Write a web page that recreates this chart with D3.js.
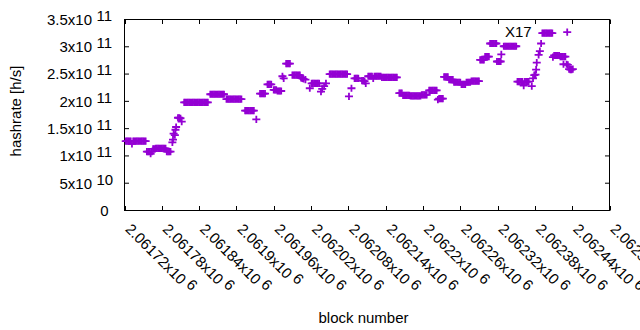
<!DOCTYPE html>
<html>
<head>
<meta charset="utf-8">
<script src="https://cdn.jsdelivr.net/npm/d3@7"></script>
<style>
  body { margin: 0; background: #fff; }
  svg text { font-family: "Liberation Sans", Arial, sans-serif; font-size: 15px; fill: #000; }
</style>
</head>
<body>
<div class="svg-container"></div>
<script>
// block numbers (one line per visible cluster)
const blockNumber = [
  2061722,2061724,2061726,2061728,2061730,2061732,2061734,2061736,2061738,2061740,2061742,2061744,2061746,2061748,2061750,2061752,2061754,
  2061756,2061758,2061760,2061762,2061764,
  2061766,2061768,2061770,2061772,2061774,2061776,2061778,2061780,2061782,2061784,2061786,
  2061788,2061790,2061792,2061794,
  2061797,2061798,2061799,2061801,2061802,2061803,
  2061806,2061808,2061810,2061812,
  2061816,2061818,2061820,2061822,2061824,2061826,2061828,2061830,2061832,2061834,2061836,2061838,2061840,2061842,2061844,2061846,2061848,2061850,2061852,2061854,
  2061858,2061860,2061862,2061864,2061866,2061868,2061870,2061872,2061874,2061876,2061878,2061880,
  2061884,2061886,2061888,2061890,2061892,2061894,2061896,2061898,2061900,2061902,2061904,2061906,2061908,
  2061914,2061916,2061918,2061920,2061922,2061924,2061926,2061928,
  2061932,
  2061938,2061940,2061942,2061944,2061946,
  2061950,2061952,2061954,2061956,
  2061960,2061962,2061964,2061966,2061968,2061970,2061972,
  2061974,2061976,
  2061980,2061982,2061984,2061986,
  2061990,2061992,2061994,2061996,2061998,2062000,2062002,2062004,2062006,2062008,
  2062011,2062018,
  2062021,2062023,2062025,2062027,2062029,2062031,2062033,
  2062036,2062038,2062041,2062044,
  2062050,2062052,2062054,2062056,2062058,2062060,2062062,2062064,2062066,2062068,2062070,2062072,2062074,2062076,2062078,
  2062081,2062085,
  2062090,2062092,2062094,2062096,
  2062102,2062104,2062106,2062108,
  2062112,2062114,2062116,2062118,2062120,2062122,2062124,2062126,2062128,2062130,2062132,2062134,2062136,2062138,2062140,2062142,2062144,2062146,2062148,2062150,2062152,2062154,2062156,2062158,
  2062162,2062164,2062166,
  2062168,2062170,2062172,2062174,2062176,2062178,
  2062180,2062182,2062184,2062186,2062188,2062190,2062192,2062194,2062196,
  2062198,2062200,2062202,2062204,2062206,
  2062210,2062212,2062214,2062216,2062218,2062220,2062222,
  2062224,2062226,2062228,2062230,2062232,
  2062234,2062236,2062238,2062240,
  2062242,2062244,2062246,2062248,
  2062250,2062252,2062254,2062256,2062258,2062260,
  2062262,2062264,2062266,2062268,
  2062270,2062272,2062274,2062276,
  2062278,2062280,2062282,2062284,2062286,2062288,2062290,
  2062292,2062294,2062296,2062298,
  2062300,2062302,2062304,2062306,
  2062308,2062310,2062312,2062314,2062316,2062318,
  2062319,2062321,2062323,2062325,2062326,
  2062330,2062332,2062334,2062336,2062338,2062340,2062342,2062344,2062346,2062348,2062350,
  2062352,2062354,2062356,2062358,2062360,2062362,2062364,2062366,2062368,2062370,2062375,
  2062377,2062379,2062381,2062382,2062383,2062386,2062388,2062390,
  2062392,2062394,2062396,2062398,2062400,2062402,2062404,2062406,2062408,
  2062409,2062411,2062413,2062415,2062417,2062419,
  2062421,2062423,2062425,2062426,2062427,2062429,
  2062431,2062432,2062433,
  2062435,2062437,2062439,2062441
];

// hashrate in GH/s, same order as blockNumber
const hashrateGH = [
  127,127,127,127,127,122,127,127,127,127,127,127,127,127,127,127,127,
  108,108,108,104,108,
  113,113,114,114,114,114,114,114,114,114,114,
  108,108,108,108,
  125,130,141,138,148,153,
  170,170,169,163,
  198,198,198,198,198,198,198,198,198,198,198,198,198,198,198,198,198,198,198,198,
  213,213,213,213,213,213,213,213,213,213,213,213,
  204,204,204,204,204,204,204,204,204,204,204,204,204,
  183,183,183,183,183,183,183,183,
  167,
  214,214,214,214,214,
  231,231,231,231,
  221,221,221,219,219,219,219,
  246,242,
  269,269,269,269,
  248,248,248,248,248,248,248,243,242,241,
  240,224,
  233,233,233,233,233,233,233,
  218,223,228,233,
  250,250,250,250,250,250,250,250,250,250,250,250,250,250,250,
  209,224,
  242,242,242,242,
  238,238,237,233,
  246,246,246,246,242,246,246,246,246,246,246,244,244,244,244,244,244,244,244,244,244,244,244,244,
  215,215,215,
  211,211,211,211,211,211,
  210,210,210,210,210,210,210,210,210,
  212,212,212,212,212,
  220,220,220,220,220,220,220,
  203,205,205,205,205,
  245,245,245,245,
  240,240,240,240,
  235,235,235,235,235,235,
  231,231,231,231,
  235,235,235,235,
  237,237,237,237,237,237,237,
  276,276,276,276,
  282,282,282,282,
  306,306,306,306,306,306,
  273,273,273,273,286,
  301,301,301,301,301,301,301,301,301,301,301,
  236,236,236,236,236,229,236,236,236,236,228,
  242,248,249,258,271,285,292,306,
  325,325,325,325,325,325,325,325,325,
  281,284,284,284,284,284,
  282,282,282,268,282,282,
  268,327,267,
  259,258,258,259
];

const xTicks = [2061720,2061780,2061840,2061900,2061960,2062020,2062080,2062140,2062200,2062260,2062320,2062380,2062440,2062500];
const yTicks = [0,5e10,1e11,1.5e11,2e11,2.5e11,3e11,3.5e11];

const width = 640, height = 330;
const box = { left:124.5, right:609.5, top:19.5, bottom:210.5 };
const tick = 4.5;

const points = blockNumber.map((b, i) => ({ block: b, rate: hashrateGH[i] * 1e9 }));

const xScale = d3.scaleLinear().domain([2061720, 2062500]).range([box.left, box.right]);
const yScale = d3.scaleLinear().domain([0, 3.5e11]).range([box.bottom, box.top]);

const svg = d3.select('.svg-container')
    .append('svg')
    .attr('width', width)
    .attr('height', height);

// tick marks (inside, mirrored on top and right)
const tickG = svg.append('g').attr('stroke', '#000').attr('stroke-width', 1);
xTicks.forEach(t => {
    const x = Math.round(xScale(t)) + 0.5;
    tickG.append('line').attr('x1', x).attr('x2', x).attr('y1', box.bottom).attr('y2', box.bottom - tick);
    tickG.append('line').attr('x1', x).attr('x2', x).attr('y1', box.top).attr('y2', box.top + tick);
});
yTicks.forEach(t => {
    const y = yScale(t);
    tickG.append('line').attr('x1', box.left).attr('x2', box.left + tick).attr('y1', y).attr('y2', y);
    tickG.append('line').attr('x1', box.right).attr('x2', box.right - tick).attr('y1', y).attr('y2', y);
});

// border
svg.append('rect')
    .attr('x', box.left).attr('y', box.top)
    .attr('width', box.right - box.left).attr('height', box.bottom - box.top)
    .attr('fill', 'none').attr('stroke', '#000').attr('stroke-width', 1);

// y tick labels, gnuplot style "mx10^e"
yTicks.forEach(t => {
    const y = yScale(t) + 5.4;
    if (t === 0) {
        svg.append('text').attr('x', 108.5).attr('y', y).attr('text-anchor', 'end').text('0');
        return;
    }
    const e = Math.floor(Math.log10(t));
    const m = d3.format('~g')(t / Math.pow(10, e));
    svg.append('text').attr('x', 92).attr('y', y).attr('text-anchor', 'end').text(m + 'x10');
    svg.append('text').attr('x', 96.5).attr('y', y - 4).text(e);
});

// x tick labels rotated
const fmtX = d3.format('.6~g');
xTicks.forEach(t => {
    const lab = svg.append('text')
        .attr('transform', `translate(${xScale(t)},230) rotate(45)`);
    lab.append('tspan').text(fmtX(t / 1e6) + 'x10');
    lab.append('tspan').attr('dx', 4).attr('dy', -4).text('6');
});

// axis titles
svg.append('text')
    .attr('x', 363.5).attr('y', 322.5)
    .attr('text-anchor', 'middle')
    .text('block number');

svg.append('text')
    .attr('transform', 'translate(21,111) rotate(-90)')
    .attr('text-anchor', 'middle')
    .text('hashrate [h/s]');

// points
svg.append('g')
    .selectAll('path')
    .data(points)
    .join('path')
    .attr('transform', d => `translate(${xScale(d.block)},${yScale(d.rate)})`)
    .attr('d', 'M-4,0H4M0,-3.6V3.6')
    .attr('fill', 'none')
    .attr('stroke', '#9400d3')
    .attr('stroke-width', 1.8);

// label
svg.append('text')
    .attr('x', 505).attr('y', 37)
    .text('X17');
</script>
</body>
</html>
